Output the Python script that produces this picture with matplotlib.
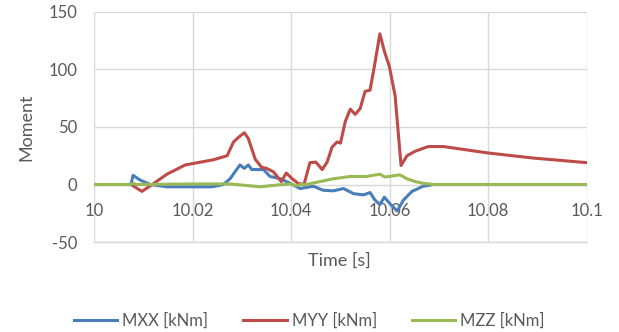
import matplotlib
matplotlib.use("Agg")
import matplotlib.pyplot as plt

# ---- data ----
t_myy = [10.0, 10.0075, 10.0097, 10.0118, 10.0148, 10.0185, 10.0242, 10.027, 10.0283, 10.0293,
         10.0305, 10.0313, 10.0327, 10.034, 10.035, 10.0364, 10.038, 10.039, 10.0402, 10.0414,
         10.0426, 10.0438, 10.045, 10.0463, 10.0473, 10.0483, 10.0493, 10.05, 10.051, 10.052,
         10.053, 10.054, 10.055, 10.056, 10.0569, 10.058, 10.0589, 10.0599, 10.0611, 10.0623,
         10.0635, 10.0652, 10.0678, 10.0709, 10.0798, 10.0891, 10.1]
myy = [0, 0, -6, 0, 9, 17, 21.5, 25, 37, 41,
       45, 40, 22, 15, 14, 11, 2.5, 10, 5, 1,
       0, 19, 19.5, 13, 19.5, 32.5, 37, 36, 55, 65.5,
       61, 66, 81, 82, 103, 131, 116, 103, 77, 16.5,
       25, 29, 33, 33, 27.5, 23, 19]

t_mxx = [10.0, 10.0075, 10.0079, 10.0093, 10.0114, 10.014, 10.0148, 10.024, 10.0262, 10.0276,
         10.0296, 10.0305, 10.0313, 10.032, 10.0344, 10.0357, 10.0378, 10.0398, 10.0418, 10.0445,
         10.0465, 10.0486, 10.0506, 10.0527, 10.0547, 10.056, 10.057, 10.058, 10.0589, 10.0601,
         10.0615, 10.0628, 10.0645, 10.0668, 10.0689, 10.1]
mxx = [0, 0, 8, 4, 0, -1.5, -2, -2, 0, 5,
       17, 14, 17, 13, 13, 7, 5, 1, -3.5, -1.5,
       -5, -5.5, -3.5, -8, -9, -7, -13.5, -17.5, -11, -17,
       -23, -13.5, -6, -1.5, 0, 0]

t_mzz = [10.0, 10.0075, 10.008, 10.0085, 10.02, 10.0276, 10.0337, 10.037, 10.04, 10.041,
         10.042, 10.043, 10.0486, 10.052, 10.0553, 10.058, 10.059, 10.0615, 10.062, 10.0635,
         10.0652, 10.0668, 10.069, 10.1]
mzz = [0, 0, 1, 0, 0.5, 0.5, -2, -0.5, 0.5, -1,
       0, 0, 5, 7, 7, 9, 6.5, 8, 8.5, 5,
       2.5, 1, 0, 0]

labels = ["MXX [kNm]", "MYY [kNm]", "MZZ [kNm]"]
colors = ["#4A7EBB", "#BE4B48", "#98B954"]
xticks = [10.0, 10.02, 10.04, 10.06, 10.08, 10.1]
xticklabels = ["10", "10.02", "10.04", "10.06", "10.08", "10.1"]
yticks = [-50, 0, 50, 100, 150]

plt.rcParams['font.family'] = ['Lato', 'DejaVu Sans']
plt.rcParams['axes.unicode_minus'] = False
txt = "#595959"
fs = 12

fig = plt.figure(figsize=(6.19, 3.32), dpi=100)
ax = fig.add_axes([0.152, 0.271, 0.796, 0.693])

lw = 2.2
ax.plot(t_mxx, mxx, color=colors[0], lw=lw, label=labels[0], zorder=3)
ax.plot(t_myy, myy, color=colors[1], lw=lw, label=labels[1], zorder=3)
ax.plot(t_mzz, mzz, color=colors[2], lw=lw, label=labels[2], zorder=4)

ax.set_xlim(10.0, 10.1)
ax.set_ylim(-50, 150)
ax.set_xticks(xticks)
ax.set_xticklabels(xticklabels)
ax.set_yticks(yticks)
ax.grid(True, color="#D9D9D9", lw=1.0, zorder=0)
ax.axhline(-50, color="#D9D9D9", lw=1.0, zorder=0, clip_on=False)
for s in ['top', 'right', 'left']:
    ax.spines[s].set_visible(False)
ax.spines['bottom'].set_position(('data', 0))
ax.spines['bottom'].set_color("#D9D9D9")
ax.tick_params(axis='both', length=0, labelsize=fs, colors=txt)
ax.tick_params(axis='x', pad=13)
ax.tick_params(axis='y', pad=12)

ax.set_ylabel("Moment", fontsize=13, color=txt, labelpad=10)
fig.text(0.549, 0.214, "Time [s]", ha='center', va='center', fontsize=13, color=txt)

fig.legend(loc='center', bbox_to_anchor=(0.50, 0.035), ncol=3, frameon=False,
           fontsize=fs, labelcolor=txt, handlelength=2.6, handletextpad=0.3,
           columnspacing=2.1)

fig.savefig("out.png", dpi=100)
